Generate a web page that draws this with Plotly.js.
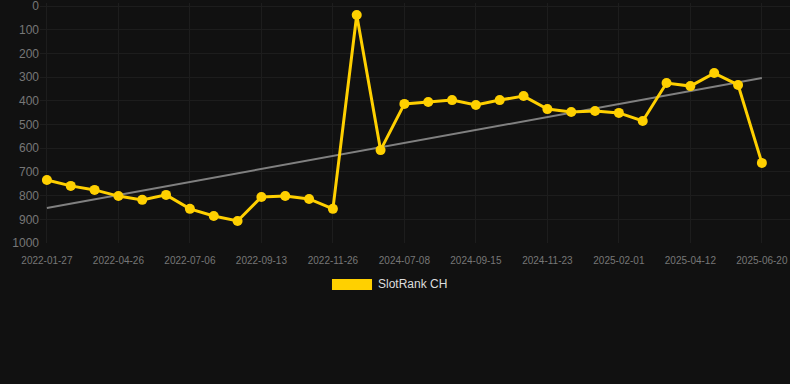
<!DOCTYPE html>
<html>
<head>
<meta charset="utf-8">
<script src="https://cdn.plot.ly/plotly-3.0.1.min.js"></script>
<style>
html,body{margin:0;padding:0;background:#111111;}
#chart{width:790px;height:384px;}
</style>
</head>
<body>
<div id="chart"></div>
<script>
const dates = [
  "2022-01-27","2022-02-26","2022-03-28","2022-04-26","2022-05-20","2022-06-12",
  "2022-07-06","2022-07-29","2022-08-21","2022-09-13","2022-10-08","2022-11-01",
  "2022-11-26","2024-05-15","2024-06-11","2024-07-08","2024-07-31","2024-08-23",
  "2024-09-15","2024-10-08","2024-10-31","2024-11-23","2024-12-16","2025-01-08",
  "2025-02-01","2025-02-24","2025-03-19","2025-04-12","2025-05-05","2025-05-28",
  "2025-06-20"
];
const ranks = [
  734, 759, 776, 802, 818, 797,
  856, 886, 907, 806, 802, 814,
  856, 38, 608, 413, 405, 397,
  418, 397, 380, 435, 447, 443,
  451, 485, 325, 338, 283, 333,
  662
];
const trendX = ["2022-01-27", "2025-06-20"];
const trendY = [852, 304];
const tickDates = ["2022-01-27","2022-04-26","2022-07-06","2022-09-13","2022-11-26",
  "2024-07-08","2024-09-15","2024-11-23","2025-02-01","2025-04-12","2025-06-20"];
const yTicks = [0,100,200,300,400,500,600,700,800,900,1000];
const seriesName = "SlotRank CH";

const gold = "#FFD000";
const traces = [
  {
    x: trendX, y: trendY, type: "scatter", mode: "lines",
    line: {color: "#808080", width: 2}, showlegend: false, hoverinfo: "skip"
  },
  {
    x: dates, y: ranks, type: "scatter", mode: "lines+markers", name: seriesName,
    line: {color: gold, width: 3},
    marker: {color: gold, size: 10},
    showlegend: false, cliponaxis: false
  }
];

const layout = {
  width: 790, height: 384,
  paper_bgcolor: "#111111", plot_bgcolor: "#111111",
  margin: {l: 40, r: 0, t: 3, b: 141},
  font: {family: "Liberation Sans, Arial, sans-serif", color: "#777777"},
  showlegend: false,
  xaxis: {
    type: "category",
    categoryorder: "array", categoryarray: dates,
    range: [-0.29, 31.18],
    tickmode: "array", tickvals: tickDates, ticktext: tickDates,
    tickfont: {size: 10, color: "#777777"},
    showgrid: true, gridcolor: "#1d1d1d", gridwidth: 1,
    zeroline: false, showline: false, ticks: "", ticklen: 0,
    tickangle: 0, ticklabelstandoff: 10
  },
  yaxis: {
    range: [1000, -12.7],
    tickmode: "array", tickvals: yTicks,
    tickfont: {size: 12, color: "#777777"},
    ticklabeloverflow: "allow",
    showgrid: true, gridcolor: "#1d1d1d", gridwidth: 1,
    zeroline: false, showline: false, ticks: "", ticklen: 0
  },
  shapes: [
    {type: "rect", xref: "paper", yref: "paper",
     x0: 0.3893, x1: 0.4427, y0: -0.1958, y1: -0.15,
     fillcolor: gold, line: {width: 0}}
  ],
  annotations: [
    {text: seriesName, xref: "paper", yref: "paper", x: 0.4480, y: -0.1729,
     xanchor: "left", yanchor: "middle", showarrow: false,
     font: {size: 12, color: "#dddddd"}}
  ]
};

Plotly.newPlot("chart", traces, layout, {staticPlot: true, displayModeBar: false});
</script>
</body>
</html>
